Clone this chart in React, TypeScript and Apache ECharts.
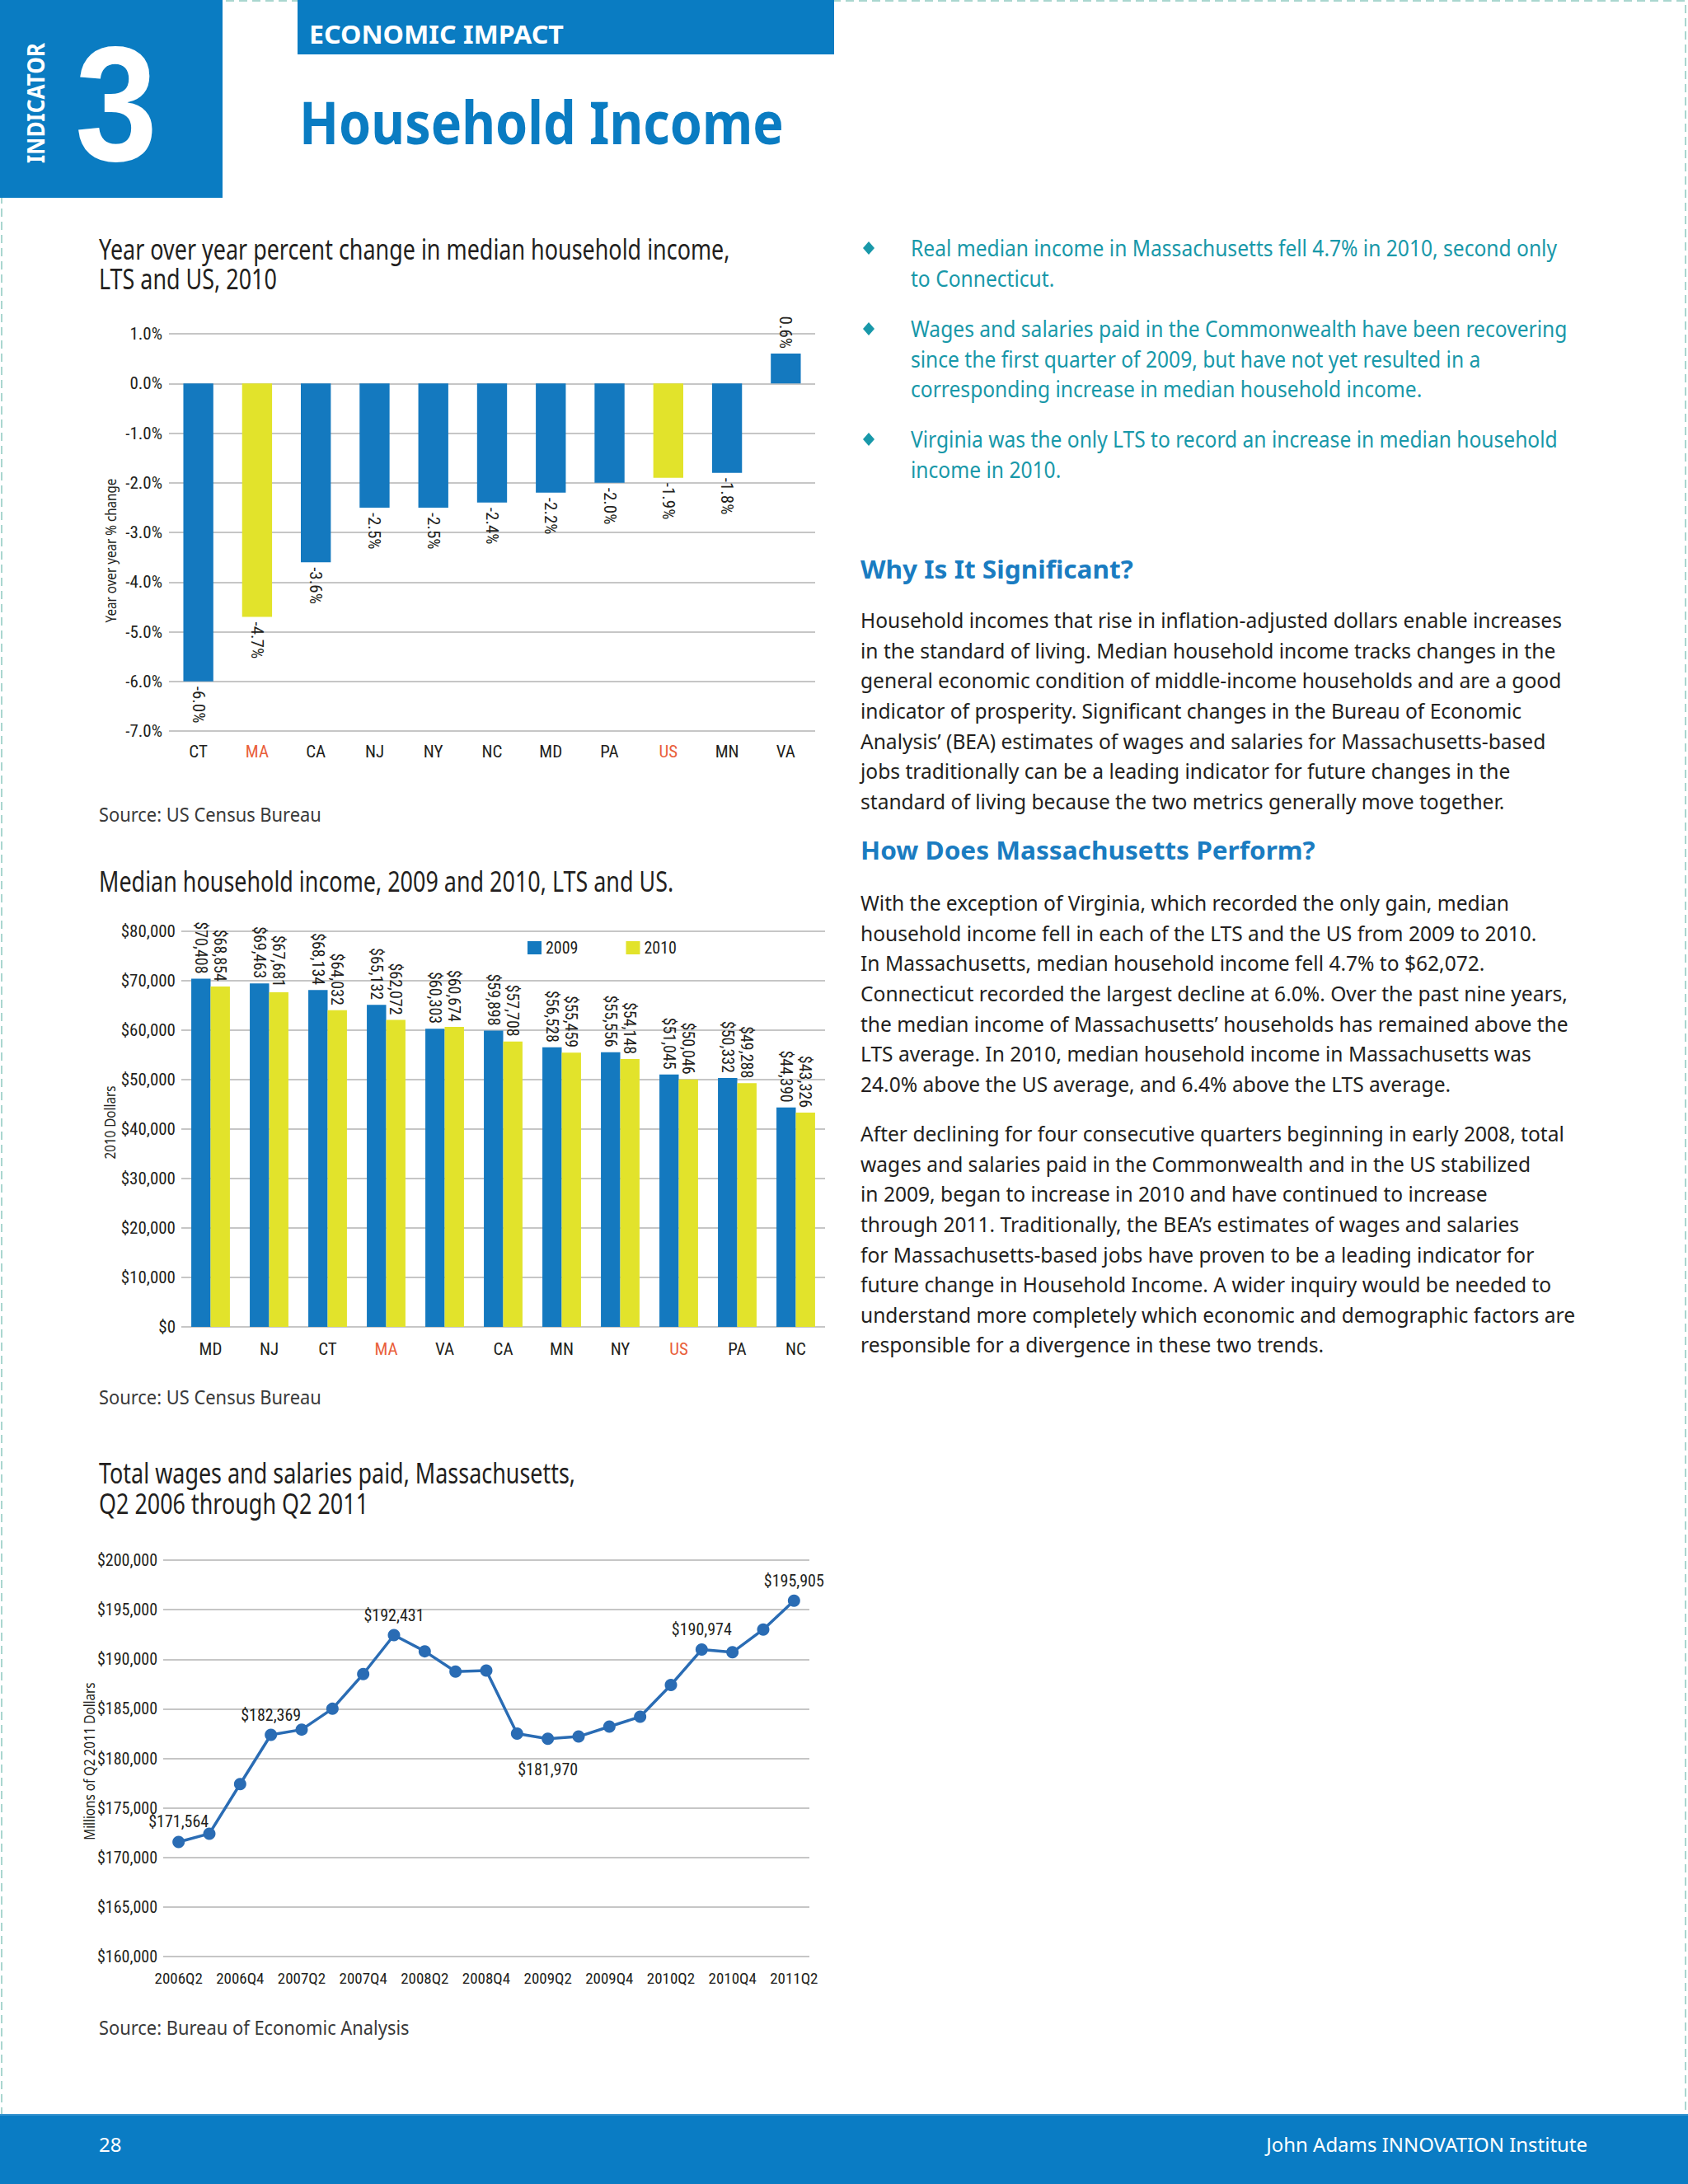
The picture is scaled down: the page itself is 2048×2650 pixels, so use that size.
import React, { useEffect, useRef } from 'react';
import * as echarts from 'echarts';

// ---------- DATA ----------
const yoyCategories = ['CT', 'MA', 'CA', 'NJ', 'NY', 'NC', 'MD', 'PA', 'US', 'MN', 'VA'];
const yoyValues = [-6.0, -4.7, -3.6, -2.5, -2.5, -2.4, -2.2, -2.0, -1.9, -1.8, 0.6];
const highlighted = ['MA', 'US'];

const incomeCategories = ['MD', 'NJ', 'CT', 'MA', 'VA', 'CA', 'MN', 'NY', 'US', 'PA', 'NC'];
const incomeSeriesNames = ['2009', '2010'];
const income2009 = [70408, 69463, 68134, 65132, 60303, 59898, 56528, 55556, 51045, 50332, 44390];
const income2010 = [68854, 67681, 64032, 62072, 60674, 57708, 55459, 54148, 50046, 49288, 43326];

const wageQuarters = [
  '2006Q2', '2006Q3', '2006Q4', '2007Q1', '2007Q2', '2007Q3', '2007Q4',
  '2008Q1', '2008Q2', '2008Q3', '2008Q4', '2009Q1', '2009Q2', '2009Q3',
  '2009Q4', '2010Q1', '2010Q2', '2010Q3', '2010Q4', '2011Q1', '2011Q2',
];
const wageValues = [
  171564, 172400, 177400, 182369, 182900, 185000, 188500,
  192431, 190800, 188750, 188850, 182500, 181970, 182200,
  183200, 184200, 187400, 190974, 190700, 193000, 195905,
];
const wageLabelledTop = [0, 3, 7, 17, 20];
const wageLabelledBottom = [12];

// ---------- TEXT ----------
const chart1Title = ['Year over year percent change in median household income,', 'LTS and US, 2010'];
const chart2Title = ['Median household income, 2009 and 2010, LTS and US.'];
const chart3Title = ['Total wages and salaries paid, Massachusetts,', 'Q2 2006 through Q2 2011'];
const chart1YName = 'Year over year % change';
const chart2YName = '2010 Dollars';
const chart3YName = 'Millions of Q2 2011 Dollars';
const source1 = 'Source: US Census Bureau';
const source2 = 'Source: US Census Bureau';
const source3 = 'Source: Bureau of Economic Analysis';

const bullets = [
  ['Real median income in Massachusetts fell 4.7% in 2010, second only', 'to Connecticut.'],
  [
    'Wages and salaries paid in the Commonwealth have been recovering',
    'since the first quarter of 2009, but have not yet resulted in a',
    'corresponding increase in median household income.',
  ],
  ['Virginia was the only LTS to record an increase in median household', 'income in 2010.'],
];
const heading1 = 'Why Is It Significant?';
const heading2 = 'How Does Massachusetts Perform?';
const para1 = [
  'Household incomes that rise in inflation-adjusted dollars enable increases',
  'in the standard of living. Median household income tracks changes in the',
  'general economic condition of middle-income households and are a good',
  'indicator of prosperity. Significant changes in the Bureau of Economic',
  'Analysis’ (BEA) estimates of wages and salaries for Massachusetts-based',
  'jobs traditionally can be a leading indicator for future changes in the',
  'standard of living because the two metrics generally move together.',
];
const para2 = [
  'With the exception of Virginia, which recorded the only gain, median',
  'household income fell in each of the LTS and the US from 2009 to 2010.',
  'In Massachusetts, median household income fell 4.7% to $62,072.',
  'Connecticut recorded the largest decline at 6.0%. Over the past nine years,',
  'the median income of Massachusetts’ households has remained above the',
  'LTS average. In 2010, median household income in Massachusetts was',
  '24.0% above the US average, and 6.4% above the LTS average.',
];
const para3 = [
  'After declining for four consecutive quarters beginning in early 2008, total',
  'wages and salaries paid in the Commonwealth and in the US stabilized',
  'in 2009, began to increase in 2010 and have continued to increase',
  'through 2011. Traditionally, the BEA’s estimates of wages and salaries',
  'for Massachusetts-based jobs have proven to be a leading indicator for',
  'future change in Household Income. A wider inquiry would be needed to',
  'understand more completely which economic and demographic factors are',
  'responsible for a divergence in these two trends.',
];

// ---------- STYLE ----------
const SANS = '"Noto Sans", "Open Sans", sans-serif';
const DIGIT = '"Liberation Sans", Arial, sans-serif';
const NARROW = '"Liberation Sans Narrow", "Arial Narrow", "Roboto Condensed", Roboto, sans-serif';
const BLUE = '#1479bf';
const YELLOW = '#e2e32b';
const HEAD_BLUE = '#0a7cc2';
const TEAL = '#1898a9';
const ORANGE = '#e9603b';
const TEXT = '#231f20';
const GRID = '#b3b3b3';
const LINE_BLUE = '#2a6cb4';

export default function App() {
  const ref = useRef<HTMLDivElement>(null);

  useEffect(() => {
    if (!ref.current) return;
    const chart = echarts.init(ref.current, null, { renderer: 'svg', width: 2048, height: 2650 });

    const ctx = document.createElement('canvas').getContext('2d') as CanvasRenderingContext2D;
    const fit = (text: string, size: number, weight: string, target: number, family: string = SANS) => {
      ctx.font = `${weight} ${size}px ${family}`;
      const w = ctx.measureText(text).width;
      return w > 0 ? target / w : 1;
    };

    const txt = (
      text: string, x: number, y: number, size: number, weight: string, color: string,
      scaleX: number, align: string = 'left', rotation: number = 0, family: string = SANS,
    ) => ({
      type: 'text', x, y, scaleX, rotation, silent: true,
      style: {
        text, fill: color, fontSize: size, fontFamily: family, fontWeight: weight,
        align, verticalAlign: 'middle', textAlign: align, textVerticalAlign: 'middle',
      },
    });

    const sEconomic = fit('ECONOMIC IMPACT', 31, 'bold', 309);
    const sMain = fit('Household Income', 71, 'bold', 588);
    const sIndicator = fit('INDICATOR', 29, 'bold', 146);
    const sThree = fit('3', 198, 'bold', 100, DIGIT);
    const sChartTitle = fit(chart1Title[0], 34, 'normal', 766);
    const sBody = fit(para1[0], 26, 'normal', 851);
    const sBullet = fit(bullets[1][0], 27, 'normal', 797);
    const sHeading = fit(heading1, 30, 'bold', 331);
    const sSource = fit(source1, 23, 'normal', 270);
    const sFooter = fit('John Adams INNOVATION Institute', 24, 'normal', 390);
    const sAxisName = fit(chart1YName, 19, 'normal', 175);

    const graphics: any[] = [];
    // page dashed border
    graphics.push({
      type: 'rect', silent: true, z: -10,
      shape: { x: 2, y: 1, width: 2043, height: 2600 },
      style: { fill: 'none', stroke: '#a9d6cf', lineWidth: 2, lineDash: [10, 6] },
    });
    // header
    graphics.push({ type: 'rect', silent: true, shape: { x: 0, y: 0, width: 270, height: 240 }, style: { fill: HEAD_BLUE } });
    graphics.push({ type: 'rect', silent: true, shape: { x: 361, y: 0, width: 651, height: 66 }, style: { fill: HEAD_BLUE } });
    graphics.push(txt('INDICATOR', 43, 125, 29, 'bold', '#ffffff', sIndicator, 'center', Math.PI / 2));
    graphics.push(txt('3', 141, 126, 198, 'bold', '#ffffff', sThree, 'center', 0, DIGIT));
    graphics.push(txt('ECONOMIC IMPACT', 375, 41, 31, 'bold', '#ffffff', sEconomic));
    graphics.push(txt('Household Income', 363, 147, 71, 'bold', HEAD_BLUE, sMain));

    // chart titles
    chart1Title.forEach((l, i) => graphics.push(txt(l, 120, 302 + i * 36, 34, 'normal', TEXT, sChartTitle)));
    chart2Title.forEach((l, i) => graphics.push(txt(l, 120, 1069 + i * 36, 34, 'normal', TEXT, sChartTitle)));
    chart3Title.forEach((l, i) => graphics.push(txt(l, 120, 1787 + i * 37, 34, 'normal', TEXT, sChartTitle)));
    // axis names
    graphics.push(txt(chart1YName, 134, 668, 19, 'normal', TEXT, sAxisName, 'center', Math.PI / 2));
    graphics.push(txt(chart2YName, 133, 1362, 19, 'normal', TEXT, sAxisName, 'center', Math.PI / 2));
    graphics.push(txt(chart3YName, 108, 2137, 19, 'normal', TEXT, sAxisName, 'center', Math.PI / 2));
    // sources
    graphics.push(txt(source1, 120, 988, 23, 'normal', '#3a3a3a', sSource));
    graphics.push(txt(source2, 120, 1695, 23, 'normal', '#3a3a3a', sSource));
    graphics.push(txt(source3, 120, 2460, 23, 'normal', '#3a3a3a', sSource));

    // bullets
    const bulletStarts = [301, 399, 533];
    bullets.forEach((lines, b) => {
      const y0 = bulletStarts[b];
      graphics.push({
        type: 'polygon', silent: true,
        shape: { points: [[1054, y0 - 8], [1061, y0], [1054, y0 + 8], [1047, y0]] },
        style: { fill: TEAL },
      });
      lines.forEach((l, i) => graphics.push(txt(l, 1105, y0 + i * 36.5, 27, 'normal', TEAL, sBullet)));
    });
    // headings & paragraphs
    graphics.push(txt(heading1, 1044, 690, 30, 'bold', '#1a7cc1', sHeading));
    graphics.push(txt(heading2, 1044, 1031, 30, 'bold', '#1a7cc1', sHeading));
    para1.forEach((l, i) => graphics.push(txt(l, 1044, 752 + i * 36.6, 26, 'normal', TEXT, sBody)));
    para2.forEach((l, i) => graphics.push(txt(l, 1044, 1095 + i * 36.6, 26, 'normal', TEXT, sBody)));
    para3.forEach((l, i) => graphics.push(txt(l, 1044, 1375 + i * 36.6, 26, 'normal', TEXT, sBody)));

    // footer
    graphics.push({ type: 'rect', silent: true, shape: { x: 0, y: 2565, width: 2048, height: 85 }, style: { fill: '#0a7cc4' } });
    graphics.push({ type: 'rect', silent: true, shape: { x: 0, y: 2565, width: 2048, height: 2 }, style: { fill: '#3a95d0' } });
    graphics.push(txt('28', 120, 2601, 24, 'normal', '#ffffff', sFooter));
    graphics.push(txt('John Adams INNOVATION Institute', 1926, 2601, 24, 'normal', '#ffffff', sFooter, 'right'));

    const catData = (cats: string[]) =>
      cats.map((c) => (highlighted.includes(c) ? { value: c, textStyle: { color: ORANGE } } : c));
    const money = (v: number) => '$' + v.toLocaleString('en-US');
    const axisLabelBase = { fontFamily: NARROW, fontSize: 21, color: TEXT };
    const splitLine = { show: true, lineStyle: { color: GRID, width: 1.5 } };

    const option: any = {
      animation: false,
      backgroundColor: '#ffffff',
      textStyle: { fontFamily: NARROW },
      graphic: { elements: graphics },
      grid: [
        { left: 205, top: 405, width: 784, height: 482, outerBoundsMode: 'none' },
        { left: 220, top: 1130, width: 781, height: 480, outerBoundsMode: 'none' },
        { left: 198, top: 1893, width: 784, height: 481, outerBoundsMode: 'none' },
      ],
      legend: {
        left: 635, top: 1135, itemWidth: 17, itemHeight: 16, itemGap: 58, icon: 'rect',
        textStyle: { fontFamily: NARROW, fontSize: 20, color: TEXT },
        data: incomeSeriesNames,
      },
      xAxis: [
        {
          gridIndex: 0, type: 'category', data: catData(yoyCategories),
          axisLine: { show: false }, axisTick: { show: false },
          axisLabel: { ...axisLabelBase, margin: 14 },
        },
        {
          gridIndex: 1, type: 'category', data: catData(incomeCategories),
          axisLine: { show: false }, axisTick: { show: false },
          axisLabel: { ...axisLabelBase, margin: 16 },
        },
        {
          gridIndex: 2, type: 'category', data: wageQuarters, boundaryGap: true,
          axisLine: { show: false }, axisTick: { show: false },
          axisLabel: { ...axisLabelBase, fontSize: 19, margin: 17, interval: 1 },
        },
      ],
      yAxis: [
        {
          gridIndex: 0, type: 'value', min: -7, max: 1, interval: 1,
          axisLine: { show: false }, axisTick: { show: false }, splitLine,
          axisLabel: { ...axisLabelBase, margin: 8, formatter: (v: number) => v.toFixed(1) + '%' },
        },
        {
          gridIndex: 1, type: 'value', min: 0, max: 80000, interval: 10000,
          axisLine: { show: false }, axisTick: { show: false }, splitLine,
          axisLabel: { ...axisLabelBase, margin: 7, formatter: money },
        },
        {
          gridIndex: 2, type: 'value', min: 160000, max: 200000, interval: 5000,
          axisLine: { show: false }, axisTick: { show: false }, splitLine,
          axisLabel: { ...axisLabelBase, fontSize: 20, margin: 7, formatter: money },
        },
      ],
      series: [
        {
          type: 'bar', name: 'yoy', xAxisIndex: 0, yAxisIndex: 0, barWidth: '51%',
          data: yoyValues.map((v, i) => ({
            value: v,
            itemStyle: { color: highlighted.includes(yoyCategories[i]) ? YELLOW : BLUE },
            label: { position: v < 0 ? 'bottom' : 'top', align: v < 0 ? 'left' : 'right' },
          })),
          label: {
            show: true, rotate: -90, verticalAlign: 'middle', distance: 6,
            fontFamily: NARROW, fontSize: 21, color: TEXT,
            formatter: (p: any) => Number(p.value).toFixed(1) + '%',
          },
        },
        ...[income2009, income2010].map((arr, k) => ({
          type: 'bar', name: incomeSeriesNames[k], xAxisIndex: 1, yAxisIndex: 1,
          barGap: '0%', barCategoryGap: '34%',
          itemStyle: { color: k === 0 ? BLUE : YELLOW },
          data: arr,
          label: {
            show: true, position: 'top', rotate: -90, align: 'right', verticalAlign: 'middle', distance: 6,
            fontFamily: NARROW, fontSize: 20, color: TEXT,
            formatter: (p: any) => money(Number(p.value)),
          },
        })),
        {
          type: 'line', name: 'wages', xAxisIndex: 2, yAxisIndex: 2,
          symbol: 'circle', symbolSize: 15,
          lineStyle: { color: LINE_BLUE, width: 3.5 },
          itemStyle: { color: LINE_BLUE },
          data: wageValues.map((v, i) => {
            const top = wageLabelledTop.includes(i);
            const bottom = wageLabelledBottom.includes(i);
            if (!top && !bottom) return v;
            return {
              value: v,
              label: {
                show: true, position: top ? 'top' : 'bottom', distance: top ? 7 : 20,
                fontFamily: NARROW, fontSize: 20, color: TEXT,
                formatter: (p: any) => money(Number(p.value)),
              },
            };
          }),
        },
      ],
    };

    chart.setOption(option);
    return () => chart.dispose();
  }, []);

  return (
    <div
      ref={ref}
      style={{ position: 'absolute', left: 0, top: 0, width: 2048, height: 2650, background: '#ffffff' }}
    />
  );
}
